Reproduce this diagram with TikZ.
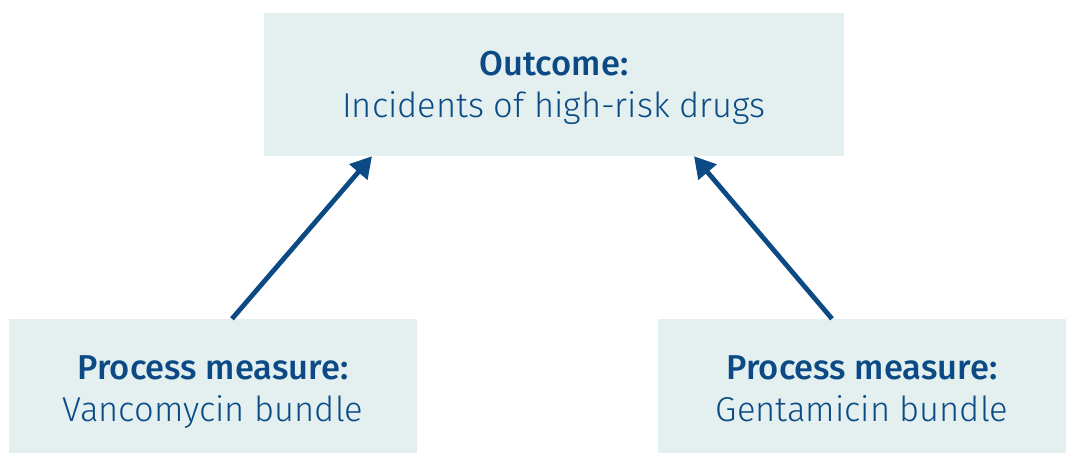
\documentclass[tikz,border=0pt]{standalone}
\usepackage{fontspec}
\setmainfont{Fira Sans}[UprightFont=* Light, BoldFont=* Medium]
\usetikzlibrary{arrows.meta}
\definecolor{measureblue}{HTML}{0B4A85}
\definecolor{measurefill}{HTML}{E3F0EF}
\begin{document}
\begin{tikzpicture}[x=1pt, y=1pt,
    measurebox/.style={fill=measurefill, text=measureblue, align=center,
      inner sep=0pt, text depth=10pt, font=\fontsize{34.5}{42}\selectfont},
    measurearrow/.style={draw=measureblue, line width=4.8pt,
      -{Triangle[length=21pt, width=23pt]}}]

	\useasboundingbox (0,0) rectangle (1068,453);

	\node[measurebox, minimum width=580pt, minimum height=143pt, text height=77pt] (outcome) at (554,368.5)
		{\textbf{Outcome:}\\Incidents of high-risk drugs};
	\node[measurebox, minimum width=408pt, minimum height=134pt, text height=81pt] (vanco) at (213,67)
		{\textbf{Process measure:}\\Vancomycin bundle};
	\node[measurebox, minimum width=408pt, minimum height=134pt, text height=81pt] (genta) at (862,67)
		{\textbf{Process measure:}\\Gentamicin bundle};

	\draw[measurearrow] ([xshift=19pt]vanco.north) -- ([xshift=-182pt]outcome.south);
	\draw[measurearrow] ([xshift=-30pt]genta.north) -- ([xshift=140pt]outcome.south);
    \end{tikzpicture}
\end{document}
